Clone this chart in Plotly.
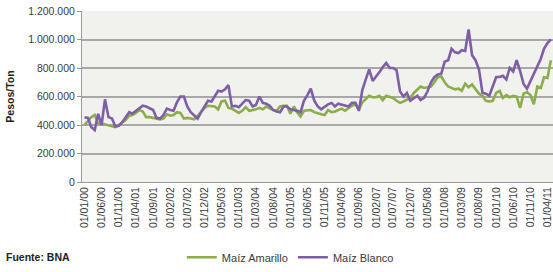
import pandas as pd
import plotly.graph_objects as go

# Monthly prices (thousand pesos/ton), Jan 2000 .. May 2011
start_month = "2000-01-01"
amarillo_k = [
    400, 430, 455, 470, 410, 410, 405, 395, 393, 385,
    400, 415, 435, 465, 470, 485, 505, 495, 455, 455,
    450, 445, 440, 445, 475, 465, 470, 490, 485, 445,
    450, 445, 440, 465, 490, 520, 535, 535, 530, 510,
    565, 570, 520, 515, 500, 485, 500, 525, 500, 505,
    510, 520, 510, 530, 515, 505, 500, 530, 535, 535,
    480, 530, 490, 460, 500, 503, 505, 490, 480, 475,
    470, 505, 490, 495, 505, 515, 500, 520, 535, 545,
    510, 560, 585, 605, 595, 595, 605, 575, 605, 595,
    590, 570, 555, 565, 575, 590, 625, 650, 670, 660,
    665, 670, 700, 735, 740, 700, 670, 660, 650, 655,
    640, 690, 665, 685, 655, 620, 605, 570, 565, 570,
    625, 640, 590, 610, 595, 605, 600, 520, 620, 630,
    610, 545, 670, 660, 735, 730, 855,
]
blanco_k = [
    455, 450, 386, 365, 478, 400, 580, 455, 445, 390,
    395, 420, 455, 490, 480, 500, 520, 535, 530, 520,
    505, 450, 445, 470, 515, 505, 500, 560, 600, 600,
    530, 490, 470, 445, 490, 530, 570, 565, 600, 640,
    635, 650, 680, 530, 535, 525, 550, 575, 570, 530,
    540, 600, 555, 550, 535, 505, 495, 490, 530, 530,
    510, 505, 500, 490, 570, 610, 655, 570, 530, 510,
    530, 545, 555, 530, 550, 543, 535, 530, 555, 555,
    500, 645, 720, 790, 710, 740, 770, 806, 835, 800,
    800, 785, 635, 600, 625, 570, 590, 605, 575, 590,
    635, 700, 735, 755, 760, 845, 855, 935, 910, 905,
    925, 920, 1070, 890, 855, 790, 627, 620, 605, 665,
    737, 737, 745, 720, 800, 775, 855, 780, 688, 655,
    710, 765, 820, 865, 935, 975, 1000,
]
series_names = ["Maíz Amarillo", "Maíz Blanco"]
y_tickvals = [0, 200000, 400000, 600000, 800000, 1000000, 1200000]
source_text = "Fuente: BNA"
y_title = "Pesos/Ton"

n = min(len(amarillo_k), len(blanco_k))
dates = pd.date_range(start_month, periods=n, freq="MS")
amarillo = [v * 1000 for v in amarillo_k[:n]]
blanco = [v * 1000 for v in blanco_k[:n]]
x_tickvals = dates[::5]

GREEN = "#8CAE4A"
PURPLE = "#7E5FA6"
FONT = "Liberation Sans"

fig = go.Figure()
fig.add_trace(go.Scatter(x=dates, y=amarillo, mode="lines", name=series_names[0],
                         line=dict(color=GREEN, width=2.6)))
fig.add_trace(go.Scatter(x=dates, y=blanco, mode="lines", name=series_names[1],
                         line=dict(color=PURPLE, width=2.6)))

fig.update_layout(
    width=553, height=272,
    margin=dict(l=82, r=0, t=11, b=83),
    paper_bgcolor="white",
    plot_bgcolor="#F1F1ED",
    separators=",.",
    font=dict(family=FONT, size=11, color="#3A3A3A"),
    showlegend=True,
    legend=dict(orientation="h", x=0.212, y=-0.44, xanchor="left", yanchor="middle",
                font=dict(size=11, color="#3A3A3A"), bgcolor="rgba(0,0,0,0)",
                itemwidth=30, tracegroupgap=0),
    xaxis=dict(
        range=["1999-12-10", "2011-05-20"],
        tickvals=x_tickvals, tickformat="%d/%m/%y", tickangle=-90,
        showgrid=False, showline=True, linecolor="#9A9A9A", linewidth=1,
        ticks="", tickfont=dict(size=10.5, color="#3A3A3A"), zeroline=False,
    ),
    yaxis=dict(
        range=[0, 1200000], tickvals=y_tickvals, tickformat=",d",
        showgrid=True, gridcolor="#A8A8A8", gridwidth=1.5,
        showline=True, linecolor="#9A9A9A", linewidth=1,
        ticks="outside", ticklen=4, tickcolor="#9A9A9A",
        tickfont=dict(size=10.5, color="#3A3A3A"), zeroline=False,
        title=dict(text=y_title, font=dict(size=10.5, color="#222222", weight="bold"), standoff=11),
    ),
    annotations=[dict(text=source_text, xref="paper", yref="paper", x=-0.165, y=-0.44,
                      xanchor="left", yanchor="middle", showarrow=False,
                      font=dict(size=10.5, color="#222222", weight="bold"))],
)

fig.write_html("out.html", config={"displayModeBar": False},
               post_script="document.body.style.margin='0px';")
